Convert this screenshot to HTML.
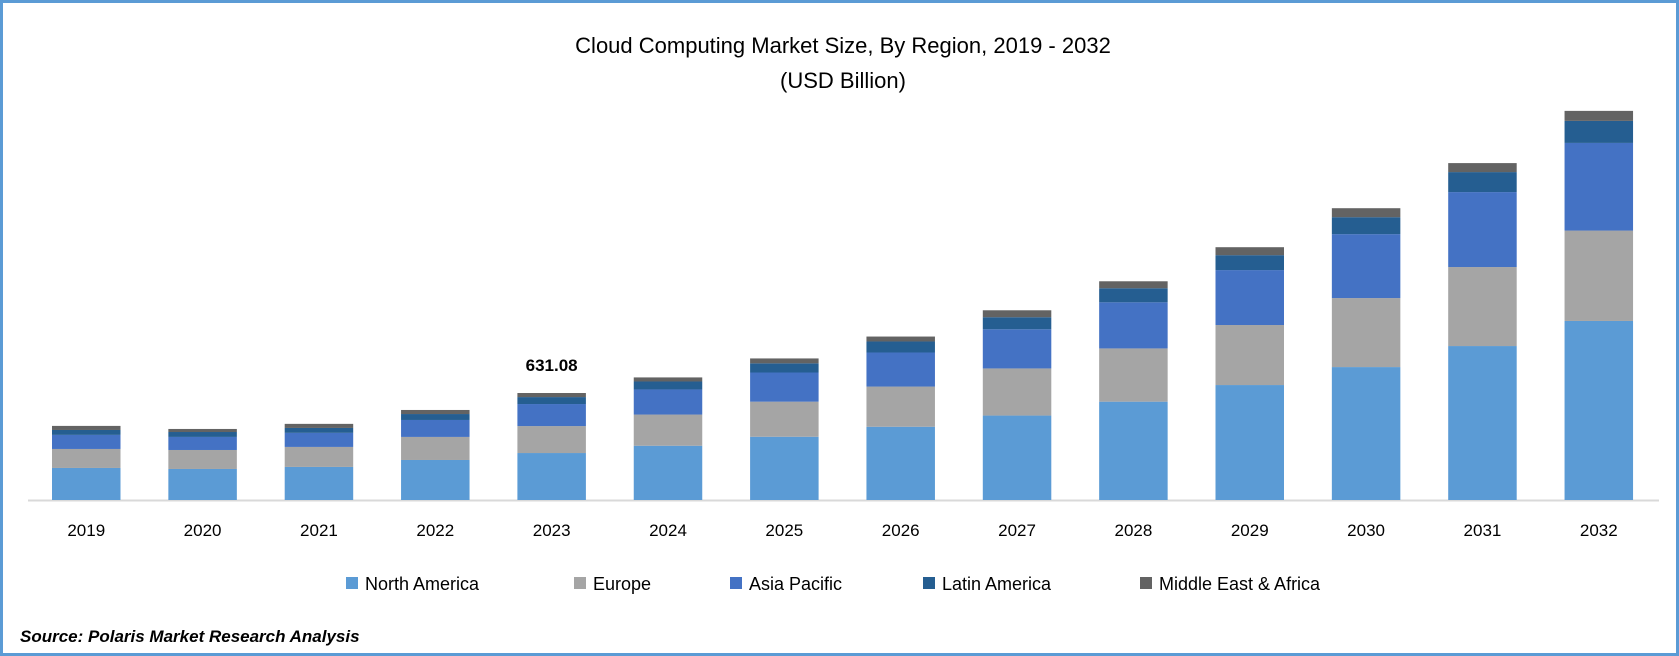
<!DOCTYPE html>
<html><head><meta charset="utf-8"><style>
body{margin:0;background:#fff}
#wrap{position:relative;width:1679px;height:656px;box-sizing:border-box;border:3px solid #5b9bd5;background:#fff;overflow:hidden}
svg{position:absolute;left:0;top:0}
text{font-family:"Liberation Sans",sans-serif}
</style></head><body>
<div id="wrap">
<svg id="chart" width="1679" height="656">
<text x="840" y="50" text-anchor="middle" font-size="22" fill="#000">Cloud Computing Market Size, By Region, 2019 - 2032</text>
<text x="840" y="85" text-anchor="middle" font-size="22" fill="#000">(USD Billion)</text>
<line x1="25" y1="497.5" x2="1656" y2="497.5" stroke="#d9d9d9" stroke-width="2"/>
<g id="bars"></g>
<g id="xlabels"></g>
<g id="legend"></g>
<text x="17" y="639" font-size="17" font-weight="bold" font-style="italic" fill="#000">Source: Polaris Market Research Analysis</text>
</svg>
</div>
<script>
const years = ["2019","2020","2021","2022","2023","2024","2025","2026","2027","2028","2029","2030","2031","2032"];
const seriesNames = ["North America","Europe","Asia Pacific","Latin America","Middle East & Africa"];
const seriesColors = ["#5b9bd5","#a5a5a5","#4472c4","#255e91","#636363"];
const northAmerica = [189,183,195,236,277,320,373,432,498,580,678,784,908,1056];
const europe = [112,112,118,136,159,184,207,237,278,314,354,407,466,533];
const asiaPacific = [83,77,83,100,130,148,172,201,231,272,324,377,442,517];
const latinAmerica = [29,29,29,35,41,47,54,65,71,83,88,100,118,130];
const middleEastAfrica = [24,18,24,24,24,24,29,29,41,41,47,53,53,59];
const annotations = [{year:"2023", label:"631.08"}];
const series = [northAmerica, europe, asiaPacific, latinAmerica, middleEastAfrica];

const NS = "http://www.w3.org/2000/svg";
const baseY = 497, pxPerUnit = 107/631.08;
const firstX = 49, step = 116.35, barW = 68.5;
function xPos(i){ return firstX + i*step; }
function yScale(v){ return v*pxPerUnit; }

const bars = document.getElementById('bars');
years.forEach((yr,i)=>{
  let cum = 0;
  series.forEach((s,k)=>{
    const h = yScale(s[i]);
    const r = document.createElementNS(NS,'rect');
    r.setAttribute('x', xPos(i));
    r.setAttribute('y', baseY - yScale(cum) - h);
    r.setAttribute('width', barW);
    r.setAttribute('height', h);
    r.setAttribute('fill', seriesColors[k]);
    
    
    bars.appendChild(r);
    cum += s[i];
  });
  const annot = annotations.find(a=>a.year===yr);
  if(annot){
    const t = document.createElementNS(NS,'text');
    t.setAttribute('x', xPos(i)+barW/2);
    t.setAttribute('y', baseY - yScale(cum) - 22);
    t.setAttribute('text-anchor','middle');
    t.setAttribute('font-size','17');
    t.setAttribute('font-weight','bold');
    t.textContent = annot.label;
    
    
    bars.appendChild(t);
  }
  const lab = document.createElementNS(NS,'text');
  lab.setAttribute('x', xPos(i)+barW/2);
  lab.setAttribute('y', 533);
  lab.setAttribute('text-anchor','middle');
  lab.setAttribute('font-size','17');
  lab.textContent = yr;
  
  
  document.getElementById('xlabels').appendChild(lab);
});

const legendX = [343,571,727,920,1137];
const legend = document.getElementById('legend');
seriesNames.forEach((n,k)=>{
  const g = document.createElementNS(NS,'g');
  
  
  const r = document.createElementNS(NS,'rect');
  r.setAttribute('x', legendX[k]); r.setAttribute('y', 574);
  r.setAttribute('width', 12); r.setAttribute('height', 12);
  r.setAttribute('fill', seriesColors[k]);
  const t = document.createElementNS(NS,'text');
  t.setAttribute('x', legendX[k]+19); t.setAttribute('y', 587);
  t.setAttribute('font-size','18');
  t.textContent = n;
  g.appendChild(r); g.appendChild(t);
  legend.appendChild(g);
});
</script>
</body></html>
